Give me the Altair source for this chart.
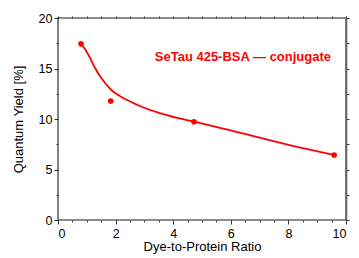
import altair as alt
import pandas as pd

# measured points
pt_x = [0.8, 1.83, 4.72, 9.59]
pt_y = [17.44, 11.78, 9.73, 6.44]

# fitted curve
curve_x = [0.81, 1.06, 1.29, 1.51, 1.85, 2.19, 2.76, 3.56, 4.72, 5.49, 6.97, 8.34, 9.59]
curve_y = [17.44, 16.34, 15.02, 14.03, 12.87, 12.2, 11.39, 10.56, 9.73, 9.22, 8.17, 7.22, 6.44]

label_text = ["SeTau 425-BSA \u2014 conjugate"]
label_x = [6.42]
label_y = [16.15]

x_major = [0, 2, 4, 6, 8, 10]
y_major = [0, 5, 10, 15, 20]
x_minor = [i * 0.5 for i in range(21)]
y_minor = [i * 2.5 for i in range(9)]

RED = "#ff0000"
xs = alt.Scale(domain=[0, 10], nice=False, zero=False)
ys = alt.Scale(domain=[0, 20], nice=False, zero=False)

curve_df = pd.DataFrame({"x": curve_x, "y": curve_y})
pt_df = pd.DataFrame({"x": pt_x, "y": pt_y})
lab_df = pd.DataFrame({"x": label_x, "y": label_y, "t": label_text})

line = alt.Chart(curve_df).mark_line(color=RED, strokeWidth=1.8, interpolate="monotone").encode(
    x=alt.X("x:Q", scale=xs, axis=alt.Axis(orient="bottom", values=x_major, tickSize=4,
                                          title="Dye-to-Protein Ratio", labelPadding=3, titlePadding=1)),
    y=alt.Y("y:Q", scale=ys, axis=alt.Axis(orient="left", values=y_major, tickSize=4,
                                          title="Quantum Yield [%]", labelPadding=2, titlePadding=13)),
)

points = alt.Chart(pt_df).mark_circle(color=RED, size=32, opacity=1).encode(
    x=alt.X("x:Q", scale=xs, axis=alt.Axis(orient="bottom", values=x_minor, tickSize=2,
                                          labels=False, title="")),
    y=alt.Y("y:Q", scale=ys, axis=alt.Axis(orient="left", values=y_minor, tickSize=2,
                                          labels=False, title="")),
)

text = alt.Chart(lab_df).mark_text(color=RED, fontSize=13, fontWeight="bold",
                                   font="Liberation Sans", align="center", baseline="middle").encode(
    x=alt.X("x:Q", scale=xs, axis=alt.Axis(orient="top", values=x_minor, tickSize=2,
                                          labels=False, title="")),
    y=alt.Y("y:Q", scale=ys, axis=alt.Axis(orient="right", values=y_minor, tickSize=3,
                                          labels=False, title="", domain=True,
                                          domainColor="#666666", domainWidth=1.6)),
    text="t:N",
)

chart = alt.layer(line, points, text).resolve_scale(
    x="independent", y="independent"
).resolve_axis(
    x="independent", y="independent"
).properties(
    width=288, height=202,
    padding={"left": 50, "top": 10, "right": 5, "bottom": 34},
    autosize=alt.AutoSizeParams(type="none"),
).configure_view(stroke="#666666", strokeWidth=1.6).configure_axis(
    grid=False, domain=False,
    labelFont="Liberation Sans", titleFont="Liberation Sans",
    labelFontSize=12.5, titleFontSize=13, titleFontWeight="normal",
    labelColor="#000000", titleColor="#000000",
    tickColor="#333333", tickWidth=1,
)

chart.save("out.html", embed_options={"renderer": "svg", "actions": False})
